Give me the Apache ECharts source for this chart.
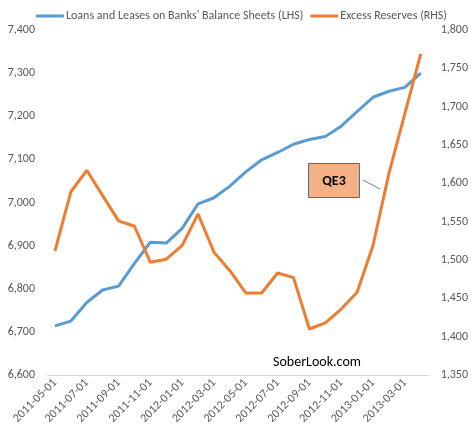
<!DOCTYPE html>
<html>
<head>
<meta charset="utf-8">
<script src="https://cdn.jsdelivr.net/npm/echarts@6/dist/echarts.min.js"></script>
<style>
  html, body { margin: 0; padding: 0; background: #fff; }
  #chart { width: 471px; height: 435px; }
</style>
</head>
<body>
<div id="chart"></div>
<script>
const months = [
  '2011-05-01', '2011-06-01', '2011-07-01', '2011-08-01', '2011-09-01', '2011-10-01',
  '2011-11-01', '2011-12-01', '2012-01-01', '2012-02-01', '2012-03-01', '2012-04-01',
  '2012-05-01', '2012-06-01', '2012-07-01', '2012-08-01', '2012-09-01', '2012-10-01',
  '2012-11-01', '2012-12-01', '2013-01-01', '2013-02-01', '2013-03-01', '2013-04-01'
];
// Loans and Leases on Banks' Balance Sheets, $bn (LHS)
const loans = [
  6714, 6725, 6768, 6797, 6806, 6859, 6908, 6906, 6940, 6997, 7011, 7038,
  7071, 7099, 7116, 7135, 7146, 7153, 7177, 7211, 7244, 7258, 7267, 7300
];
// Excess Reserves, $bn (RHS)
const reserves = [
  1512, 1589, 1617, 1584, 1551, 1544, 1497, 1501, 1519, 1560, 1510, 1486,
  1457, 1457, 1483, 1477, 1410, 1418, 1436, 1458, 1519, 1613, 1691, 1769
];

const font = "Carlito, 'Liberation Sans', sans-serif";
const grey = '#595959';

let myChart = echarts.init(document.getElementById('chart'));

function fmt(v) {
  return v.toLocaleString('en-US');
}

const option = {
  animation: false,
  textStyle: { fontFamily: font },
  grid: { left: 47, right: 40, top: 30, bottom: 60 },
  legend: {
    top: 5,
    left: 31,
    itemWidth: 28,
    itemHeight: 3,
    itemGap: 7,
    icon: 'rect',
    textStyle: { color: grey, fontSize: 12, fontFamily: font, padding: [0, 0, 0, -3] },
    data: ["Loans and Leases on Banks' Balance Sheets (LHS)", 'Excess Reserves (RHS)']
  },
  xAxis: {
    type: 'category',
    data: months,
    boundaryGap: true,
    axisLine: { lineStyle: { color: '#d9d9d9', width: 1 } },
    axisTick: { interval: 1, length: 4, lineStyle: { color: '#d9d9d9' } },
    axisLabel: {
      interval: 1,
      rotate: 45,
      color: grey,
      fontSize: 12,
      fontFamily: font,
      margin: 6
    }
  },
  yAxis: [
    {
      type: 'value',
      min: 6600,
      max: 7400,
      interval: 100,
      axisLine: { show: false },
      axisTick: { show: false },
      splitLine: { show: false },
      axisLabel: { color: grey, fontSize: 12, fontFamily: font, margin: 12, formatter: fmt }
    },
    {
      type: 'value',
      min: 1350,
      max: 1800,
      interval: 50,
      axisLine: { show: false },
      axisTick: { show: false },
      splitLine: { show: false },
      axisLabel: { color: grey, fontSize: 12, fontFamily: font, margin: 12, formatter: fmt }
    }
  ],
  series: [
    {
      name: "Loans and Leases on Banks' Balance Sheets (LHS)",
      type: 'line',
      yAxisIndex: 0,
      data: loans,
      showSymbol: false,
      lineStyle: { color: '#5b9bd5', width: 3 },
      itemStyle: { color: '#5b9bd5' }
    },
    {
      name: 'Excess Reserves (RHS)',
      type: 'line',
      yAxisIndex: 1,
      data: reserves,
      showSymbol: false,
      lineStyle: { color: '#ed7d31', width: 3 },
      itemStyle: { color: '#ed7d31' }
    }
  ],
  graphic: [
    {
      type: 'rect',
      shape: { x: 308.5, y: 163.5, width: 51, height: 34 },
      style: { fill: '#f4b183', stroke: '#41719c', lineWidth: 1 }
    },
    {
      type: 'text',
      x: 334, y: 181,
      style: {
        text: 'QE3',
        fill: '#000',
        font: "bold 14px " + font,
        align: 'center',
        verticalAlign: 'middle'
      }
    },
    {
      type: 'line',
      shape: { x1: 363, y1: 180, x2: 380, y2: 189 },
      style: { stroke: '#5b87b8', lineWidth: 1 }
    },
    {
      type: 'text',
      x: 317, y: 362,
      style: {
        text: 'SoberLook.com',
        fill: '#000',
        font: "14px " + font,
        align: 'center',
        verticalAlign: 'middle'
      }
    }
  ]
};

myChart.setOption(option);

window.addEventListener('resize', function() {
  myChart.resize();
});
</script>
</body>
</html>
